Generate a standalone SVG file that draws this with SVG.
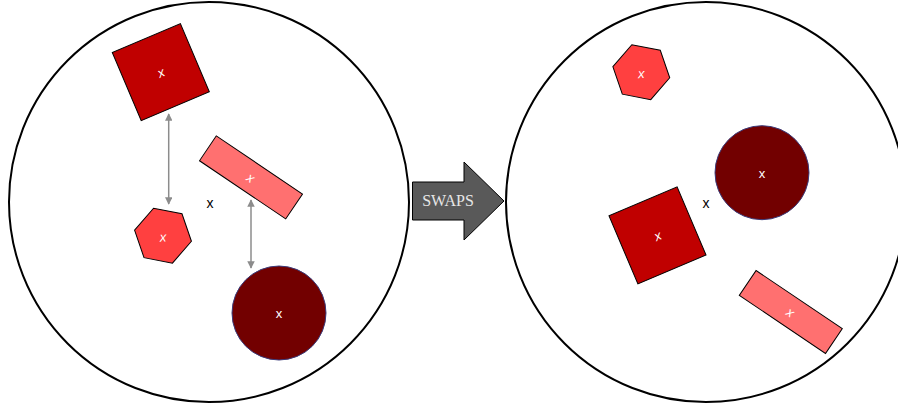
<svg xmlns="http://www.w3.org/2000/svg" width="898" height="405" viewBox="0 0 898 405">
<defs>
<style>
.ring{fill:#fff;stroke:#000;stroke-width:2}
.sq{fill:#c00000;stroke:#000;stroke-width:1}
.rc{fill:#ff7070;stroke:#000;stroke-width:1}
.hx{fill:#ff4040;stroke:#000;stroke-width:1}
.ci{fill:#720000;stroke:#3b3b7a;stroke-width:1}
.lbl{font-family:"Liberation Sans",Arial,sans-serif;font-size:13px;fill:#fff;text-anchor:middle}
.it{font-style:italic}
.ctr{font-family:"Liberation Sans",Arial,sans-serif;font-size:14px;fill:#000;text-anchor:middle}
.conn{stroke:#8c8c8c;stroke-width:1.5;fill:none;marker-start:url(#ah);marker-end:url(#ah)}
</style>
<marker id="ah" viewBox="0 0 10 10" refX="9" refY="5" markerWidth="5" markerHeight="5" orient="auto-start-reverse">
<path d="M0,0 L10,5 L0,10 z" fill="#8c8c8c"/>
</marker>
</defs>
<rect width="898" height="405" fill="#fff"/>
<g id="left-circle"><circle class="ring" cx="209" cy="202" r="200"/></g>
<g id="right-circle"><circle class="ring" cx="706" cy="202" r="200"/></g>
<g id="connectors">
<line class="conn" x1="168.7" y1="114" x2="168.7" y2="204"/>
<line class="conn" x1="251" y1="200" x2="251" y2="268"/>
</g>
<g id="left-square" transform="translate(160.8,72.2) rotate(-23)">
<rect class="sq" x="-37" y="-37" width="74" height="74"/>
<text class="lbl it" x="0" y="5">x</text>
</g>
<g id="left-rect" transform="translate(251,177.4) rotate(34)">
<rect class="rc" x="-52" y="-15" width="104" height="30"/>
<text class="lbl it" x="0" y="5">x</text>
</g>
<g id="left-hexagon" transform="translate(163,235.7) rotate(-3)">
<polygon class="hx" points="28.1,7 8,27.9 -20.1,20.9 -28.1,-7 -8,-27.9 20.1,-20.9"/>
<text class="lbl it" x="0" y="6">x</text>
</g>
<g id="left-circle-node">
<circle class="ci" cx="279" cy="313" r="47"/>
<text class="lbl" x="279" y="318">x</text>
</g>
<g id="left-center"><text class="ctr" x="210" y="208">x</text></g>
<g id="swaps-arrow">
<polygon points="412.5,182 464,182 464,162 504,201 464,240 464,220 412.5,220" fill="#595959" stroke="#000" stroke-width="1"/>
<text x="448" y="206" font-family="Liberation Serif,'Times New Roman',serif" font-size="16" fill="#e6e6e6" text-anchor="middle">SWAPS</text>
</g>
<g id="right-hexagon" transform="translate(641.3,72.2) rotate(-3)">
<polygon class="hx" points="28.1,7 8,27.9 -20.1,20.9 -28.1,-7 -8,-27.9 20.1,-20.9"/>
<text class="lbl it" x="0" y="6">x</text>
</g>
<g id="right-circle-node">
<circle class="ci" cx="762" cy="172.7" r="47"/>
<text class="lbl" x="762" y="178">x</text>
</g>
<g id="right-center"><text class="ctr" x="706" y="208">x</text></g>
<g id="right-square" transform="translate(657.5,235.4) rotate(-23)">
<rect class="sq" x="-37" y="-37" width="74" height="74"/>
<text class="lbl it" x="0" y="5">x</text>
</g>
<g id="right-rect" transform="translate(790.8,312) rotate(34)">
<rect class="rc" x="-52" y="-15" width="104" height="30"/>
<text class="lbl it" x="0" y="5">x</text>
</g>
</svg>
